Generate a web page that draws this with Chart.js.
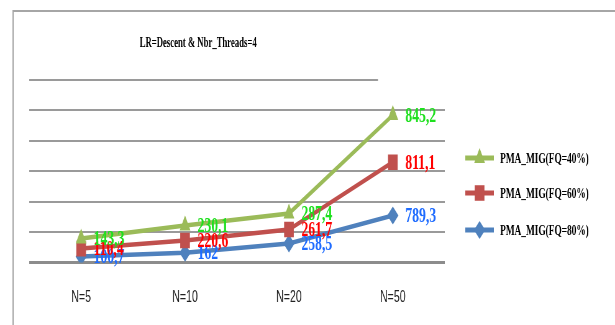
<!DOCTYPE html>
<html>
<head>
<meta charset="utf-8">
<script src="https://cdn.jsdelivr.net/npm/chart.js@4.4.1/dist/chart.umd.min.js"></script>
<style>
html, body { margin: 0; padding: 0; background: #fff; overflow: hidden; }
#myChart { display: block; }
</style>
</head>
<body>
<!-- the source picture is squeezed horizontally, so draw wide and squeeze with css -->
<canvas id="myChart" width="990" height="325" style="width:615px;height:325px"></canvas>
<script>
const CATEGORIES = ["N=5", "N=10", "N=20", "N=50"];
const SERIES_NAMES = ["PMA_MIG(FQ=40%)", "PMA_MIG(FQ=60%)", "PMA_MIG(FQ=80%)"];

// plotted heights
const FQ40 = [119, 183, 242, 727];
const FQ60 = [69, 109, 163, 495];
const FQ80 = [30, 49, 94, 232];

// the value labels printed next to the points
const FQ40_LABELS = ["143,3", "230,1", "287,4", "845,2"];
const FQ60_LABELS = ["110,4", "220,6", "261,7", "811,1"];
const FQ80_LABELS = ["100,7", "162", "258,5", "789,3"];

const TITLE = "LR=Descent & Nbr_Threads=4";
const Y_MAX = 900;
const Y_STEP = 150;

const SERIF = "'Liberation Serif', 'Times New Roman', serif";
const LINE_COLORS = ["#9bbb59", "#c0504d", "#4f81bd"];
const LABEL_COLORS = ["#1ee01e", "#ff0000", "#1f6cff"];
const POINT_STYLES = ["triangle", "rect", "rectRot"];
const POINT_RADIUS = [10, 11, 9];

function makeDataset(i, values) {
    return {
        label: SERIES_NAMES[i],
        data: values,
        borderColor: LINE_COLORS[i],
        backgroundColor: LINE_COLORS[i],
        borderWidth: 4.5,
        pointStyle: POINT_STYLES[i],
        pointRadius: POINT_RADIUS[i],
        pointHoverRadius: POINT_RADIUS[i],
        pointBorderWidth: 0,
        tension: 0,
    };
}

const valueLabels = [FQ40_LABELS, FQ60_LABELS, FQ80_LABELS];

// Frame, title, value labels and the legend on the right
const decorPlugin = {
    id: "decor",
    beforeDraw(chart) {
        const ctx = chart.ctx;
        ctx.save();
        ctx.fillStyle = "#fff";
        ctx.fillRect(0, 0, chart.width, chart.height);
        ctx.strokeStyle = "#a6a6a6";
        ctx.lineWidth = 2;
        ctx.beginPath();
        ctx.moveTo(chart.width, 11);
        ctx.lineTo(21, 11);
        ctx.lineTo(21, chart.height);
        ctx.stroke();
        ctx.restore();
    },
    beforeDatasetsDraw(chart) {
        // top grid line stops short in the source
        const ctx = chart.ctx;
        const y = chart.scales.y.getPixelForValue(Y_MAX);
        const xEnd = chart.scales.x.getPixelForValue(CATEGORIES.length - 1) - 24;
        ctx.save();
        ctx.strokeStyle = "#9a9a9a";
        ctx.lineWidth = 2;
        ctx.beginPath();
        ctx.moveTo(chart.chartArea.left, y);
        ctx.lineTo(xEnd, y);
        ctx.stroke();
        ctx.restore();
    },
    afterDatasetsDraw(chart) {
        const ctx = chart.ctx;
        ctx.save();
        ctx.font = "bold 22px " + SERIF;
        ctx.textBaseline = "middle";
        ctx.textAlign = "left";
        for (let i = 2; i >= 0; i--) {
            const meta = chart.getDatasetMeta(i);
            ctx.fillStyle = LABEL_COLORS[i];
            meta.data.forEach((pt, j) => {
                ctx.fillText(valueLabels[i][j], pt.x + 20, pt.y + 1);
            });
        }
        ctx.restore();
    },
    afterDraw(chart) {
        const ctx = chart.ctx;
        ctx.save();
        ctx.fillStyle = "#000";
        ctx.font = "bold 14px " + SERIF;
        ctx.textAlign = "center";
        ctx.textBaseline = "middle";
        ctx.fillText(TITLE, 319, 43);

        // legend
        const legendY = [158, 193, 230];
        for (let i = 0; i < 3; i++) {
            const y = legendY[i];
            ctx.strokeStyle = LINE_COLORS[i];
            ctx.lineWidth = 5;
            ctx.beginPath();
            ctx.moveTo(749, y);
            ctx.lineTo(795, y);
            ctx.stroke();
            ctx.fillStyle = LINE_COLORS[i];
            Chart.helpers.drawPoint(ctx, {
                pointStyle: POINT_STYLES[i],
                radius: POINT_RADIUS[i],
                rotation: 0,
                borderWidth: 0,
            }, 772, y);
            ctx.fillStyle = "#000";
            ctx.font = "bold 15px " + SERIF;
            ctx.textAlign = "left";
            ctx.fillText(SERIES_NAMES[i], 805, y + 1);
        }
        ctx.restore();
    },
};

const data = {
    labels: CATEGORIES,
    datasets: [
        makeDataset(0, FQ40),
        makeDataset(1, FQ60),
        makeDataset(2, FQ80),
    ],
};

const config = {
    type: "line",
    data: data,
    options: {
        responsive: false,
        animation: false,
        devicePixelRatio: 1,
        layout: {
            padding: { left: 47, right: 274, top: 80, bottom: -8 },
        },
        plugins: {
            legend: { display: false },
            title: { display: false },
            tooltip: { enabled: false },
        },
        scales: {
            x: {
                offset: true,
                grid: { display: false, drawTicks: false },
                border: { display: false },
                ticks: {
                    padding: 25,
                    color: "#222",
                    font: { family: "'Liberation Sans', Arial, sans-serif", size: 17 },
                },
            },
            y: {
                min: 0,
                max: Y_MAX,
                ticks: { display: false, stepSize: Y_STEP },
                border: { display: false },
                grid: {
                    drawTicks: false,
                    color: (c) => (c.tick && c.tick.value === Y_MAX ? "rgba(0,0,0,0)" : (c.tick && c.tick.value === 0 ? "#8c8c8c" : "#9a9a9a")),
                    lineWidth: (c) => (c.tick && c.tick.value === 0 ? 3 : 2),
                },
            },
        },
    },
    plugins: [decorPlugin],
};

var ctx = document.getElementById("myChart").getContext("2d");
var myChart = new Chart(ctx, config);
</script>
</body>
</html>
